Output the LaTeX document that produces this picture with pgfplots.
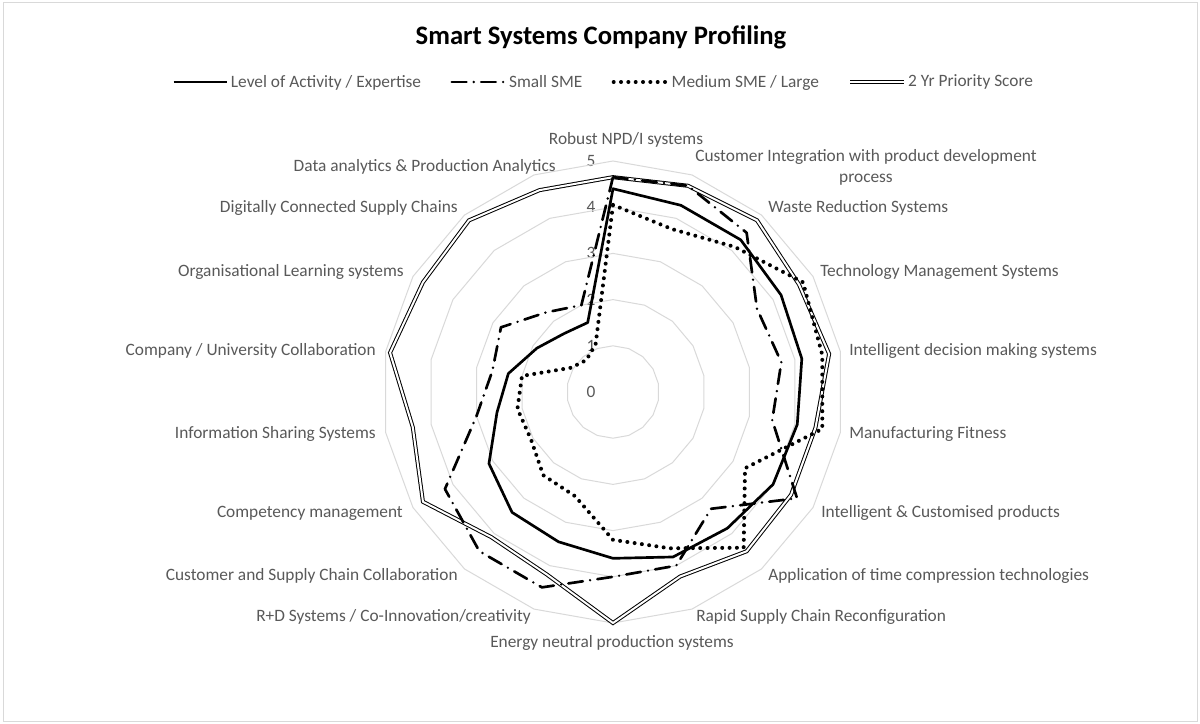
\documentclass[border=0pt]{standalone}
\usepackage{pgfplots}
\pgfplotsset{compat=1.18}
\usepackage{pgfplotstable}
\usepgfplotslibrary{polar}
\usepackage{fontspec}
\setmainfont{Carlito}

\definecolor{labgray}{HTML}{595959}
\definecolor{gridgray}{HTML}{D9D9D9}

% angle = 90 - 20*k, clockwise from the top
\pgfplotstableread{
ang level small medium prio
90  4.40 4.65 4.05 4.65
70  4.30 4.75 3.75 4.75
50  4.30 4.50 4.10 4.85
30  4.20 3.60 4.75 4.65
10  4.15 3.70 4.60 4.75
350 4.05 3.50 4.60 4.45
330 4.00 4.60 3.30 4.45
310 3.85 3.30 4.40 4.50
290 3.80 4.00 3.60 4.25
270 3.60 4.00 3.20 5.00
250 3.45 4.50 2.40 4.20
230 3.40 4.50 2.35 4.10
210 3.10 4.20 2.05 4.75
190 2.55 3.00 2.10 4.40
170 2.30 2.65 2.00 4.90
150 1.90 2.80 1.05 4.75
130 1.65 2.25 0.90 4.85
110 1.60 2.00 1.10 4.65
}\profile

% spokes of the gridline polygons
\pgfplotstableread{
ang one
10  1
30  1
50  1
70  1
90  1
110 1
130 1
150 1
170 1
190 1
210 1
230 1
250 1
270 1
290 1
310 1
330 1
350 1
}\rings

\tikzset{
  lab/.style={font=\fontsize{13}{15.75}\selectfont, text=labgray, inner sep=0pt},
  sLevel/.style={black, line width=2pt, line join=round},
  sSmall/.style={black, line width=2pt, line cap=round, line join=round,
    dash pattern=on 11pt off 5.5pt on 0pt off 5.5pt},
  sMedium/.style={black, line width=3pt, line cap=round, dash pattern=on 0pt off 5.5pt},
  sPrio/.style={draw=black, line width=0.75pt, double=white, double distance=1.5pt, line join=miter},
}

\begin{document}
\begin{tikzpicture}[x=0.75pt, y=-0.75pt]
\useasboundingbox (0,0) rectangle (1200,724);
\fill[white] (0,0) rectangle (1200,724);
\draw[gridgray, line width=0.75pt] (3,3) rectangle (1197,721);

\node[font=\fontsize{20}{24}\selectfont\bfseries, inner sep=0pt] at (601,37) {Smart Systems Company Profiling};

% value axis labels
\node[lab] at (591,392) {0};
\node[lab] at (591,345.8) {1};
\node[lab] at (591,299.6) {2};
\node[lab] at (591,253.4) {3};
\node[lab] at (591,207.2) {4};
\node[lab] at (591,161) {5};

\begin{polaraxis}[
  at={(459.75pt,-294pt)}, anchor=center,
  scale only axis, width=346.5pt, height=346.5pt,
  xmin=0, xmax=360, ymin=0, ymax=5,
  hide axis, clip=false,
  legend columns=4,
  legend style={at={(0.4805,1.171)}, anchor=center, draw=none, fill=none,
    font=\fontsize{13}{15}\selectfont, text=labgray,
    /tikz/every even column/.append style={column sep=20pt}},
  legend image code/.code={\draw[#1] (0pt,0pt) -- (40pt,0pt);},
]
\pgfplotsinvokeforeach{1,2,3,4,5}{
  \addplot[gridgray, line width=0.75pt, forget plot] table[x=ang, y expr=#1*\thisrow{one}] {\rings} -- cycle;
}
\addplot[sPrio, forget plot] table[x=ang, y=prio] {\profile} -- cycle;
\addplot[sLevel] table[x=ang, y=level] {\profile} -- cycle;
\addplot[sSmall] table[x=ang, y=small] {\profile} -- cycle;
\addplot[sMedium] table[x=ang, y=medium] {\profile} -- cycle;
\addlegendimage{sPrio}
\legend{Level of Activity / Expertise, Small SME, Medium SME / Large, 2 Yr Priority Score}
\end{polaraxis}

% category labels
\node[lab] at (626,140) {Robust NPD/I systems};
\node[lab, align=center] at (866,167) {Customer Integration with product development\\process};
\node[lab, anchor=west] at (768,208) {Waste Reduction Systems};
\node[lab, anchor=west] at (820,272) {Technology Management Systems};
\node[lab, anchor=west] at (849,351) {Intelligent decision making systems};
\node[lab, anchor=west] at (849,434) {Manufacturing Fitness};
\node[lab, anchor=west] at (821,513) {Intelligent \& Customised products};
\node[lab, anchor=west] at (768,576) {Application of time compression technologies};
\node[lab, anchor=west] at (696,617) {Rapid Supply Chain Reconfiguration};
\node[lab] at (612,643) {Energy neutral production systems};
\node[lab, anchor=east] at (531,617) {R+D Systems / Co-Innovation/creativity};
\node[lab, anchor=east] at (458,576) {Customer and Supply Chain Collaboration};
\node[lab, anchor=east] at (403,513) {Competency management};
\node[lab, anchor=east] at (376,434) {Information Sharing Systems};
\node[lab, anchor=east] at (376,351) {Company / University Collaboration};
\node[lab, anchor=east] at (404,272) {Organisational Learning systems};
\node[lab, anchor=east] at (458,208) {Digitally Connected Supply Chains};
\node[lab, anchor=east] at (556,167) {Data analytics \& Production Analytics};
\end{tikzpicture}
\end{document}
